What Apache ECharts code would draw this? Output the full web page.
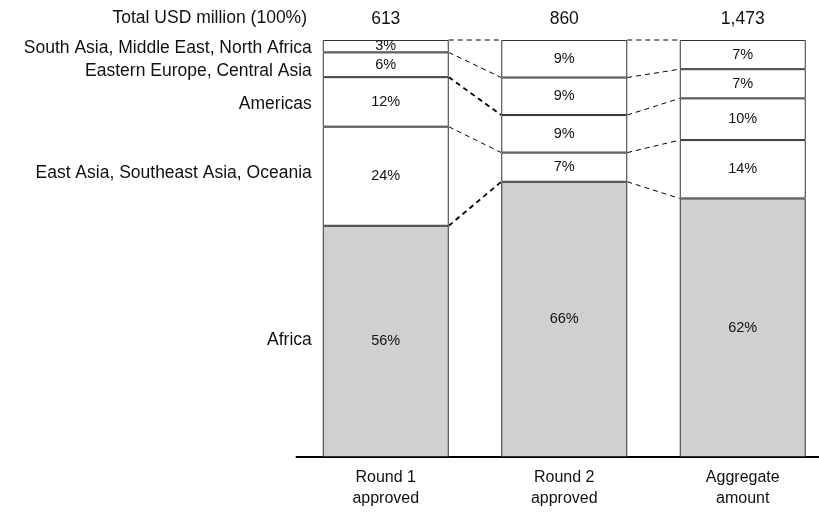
<!DOCTYPE html>
<html>
<head>
<meta charset="utf-8">
<script src="https://cdn.jsdelivr.net/npm/echarts@6/dist/echarts.min.js"></script>
<style>
  html, body { margin: 0; padding: 0; background: #fff; }
  #chart { width: 819px; height: 512px; }
</style>
</head>
<body>
<div id="chart"></div>
<script>
// Funding approved by region, shares of each round (per cent)
const categories = ['Round 1\napproved', 'Round 2\napproved', 'Aggregate\namount'];
const totals = ['613', '860', '1,473'];
const totalsTitle = 'Total USD million (100%)';
const regions = [
  'Africa',
  'East Asia, Southeast Asia, Oceania',
  'Americas',
  'Eastern Europe, Central Asia',
  'South Asia, Middle East, North Africa'
];
const africa        = [56, 66, 62];
const eastAsia      = [24, 7, 14];
const americas      = [12, 9, 10];
const easternEurope = [6, 9, 7];
const southAsia     = [3, 9, 7];

const seriesValues = [africa, eastAsia, americas, easternEurope, southAsia];
const FONT = '"Liberation Sans", Arial, sans-serif';
const BAR_W = 126;
const fills = ['#d0d0d0', '#ffffff', '#ffffff', '#ffffff', '#ffffff'];

// Each column is scaled to 100% of its own total
const colSums = categories.map((_, i) => seriesValues.reduce((s, arr) => s + arr[i], 0));
const shares = seriesValues.map(arr => arr.map((v, i) => v / colSums[i] * 100));

// Cumulative boundaries (top of each segment) per column
const cumulative = categories.map((_, i) => {
  let acc = 0;
  return shares.map(arr => (acc += arr[i]));
});
// Mid-points of each segment in the first column, for the region names
const firstMids = shares.map((arr, s) => cumulative[0][s] - arr[0] / 2);

const chart = echarts.init(document.getElementById('chart'), null, { renderer: 'canvas' });

const barSeries = seriesValues.map((arr, s) => ({
  name: regions[s],
  type: 'bar',
  stack: 'share',
  barWidth: BAR_W,
  xAxisIndex: 0,
  data: shares[s],
  itemStyle: { color: fills[s], borderColor: '#333', borderWidth: 1 },
  label: {
    show: true,
    position: 'inside',
    color: '#111',
    fontFamily: FONT,
    fontSize: 14.5,
    formatter: p => seriesValues[p.seriesIndex][p.dataIndex] + '%'
  },
  emphasis: { disabled: true },
  animation: false
}));

// Dashed connectors between matching segment boundaries of neighbouring bars
const connectorWidths = [[1.8, 1, 1.8, 1, 1], [1, 1, 1, 1, 1]];
const connectors = {
  type: 'custom',
  xAxisIndex: 0,
  data: [[0], [1]],
  silent: true,
  animation: false,
  renderItem: (params, api) => {
    const i = api.value(0);
    const children = cumulative[i].map((cum, k) => {
      const a = api.coord([i, cum]);
      const b = api.coord([i + 1, cumulative[i + 1][k]]);
      return {
        type: 'line',
        shape: { x1: a[0] + BAR_W / 2, y1: a[1], x2: b[0] - BAR_W / 2, y2: b[1] },
        style: { stroke: '#000', lineWidth: connectorWidths[i][k], lineDash: [5, 4] }
      };
    });
    return { type: 'group', children };
  }
};

// Region names beside the first bar
const nameNudge = [-1, -3, 2, 6, 2];
const regionNames = {
  type: 'custom',
  xAxisIndex: 0,
  data: [[0]],
  silent: true,
  animation: false,
  renderItem: (params, api) => ({
    type: 'group',
    children: regions.map((name, s) => {
      const p = api.coord([0, firstMids[s]]);
      return {
        type: 'text',
        x: p[0] - BAR_W / 2 - 11,
        y: p[1] + nameNudge[s],
        style: {
          text: name, fill: '#111', fontFamily: FONT, fontSize: 17.5,
          align: 'right', verticalAlign: 'middle'
        }
      };
    })
  })
};

chart.setOption({
  animation: false,
  grid: {
    left: 296.5, top: 40, width: 535.5, bottom: 55,
    containLabel: false, outerBoundsMode: 'none'
  },
  xAxis: [
    {
      type: 'category',
      data: categories,
      position: 'bottom',
      axisLine: { show: true, lineStyle: { color: '#000', width: 2 } },
      axisTick: { show: false },
      axisLabel: { color: '#111', fontFamily: FONT, fontSize: 16, lineHeight: 21, margin: 10 }
    },
    {
      type: 'category',
      data: totals,
      position: 'top',
      axisLine: { show: false },
      axisTick: { show: false },
      axisLabel: { color: '#111', fontFamily: FONT, fontSize: 17.5, margin: 12 }
    }
  ],
  yAxis: {
    type: 'value', min: 0, max: 100, show: false, splitLine: { show: false }
  },
  graphic: [{
    type: 'text',
    x: 307, y: 18,
    style: {
      text: totalsTitle, fill: '#111', fontFamily: FONT, fontSize: 17.5,
      align: 'right', verticalAlign: 'middle'
    }
  }],
  series: [...barSeries, connectors, regionNames]
});
</script>
</body>
</html>
